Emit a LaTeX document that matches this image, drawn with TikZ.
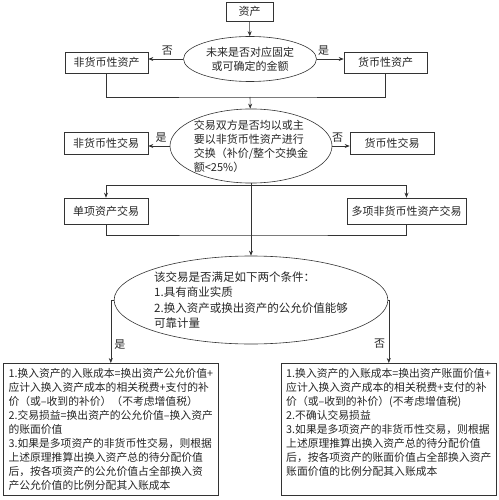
\documentclass[tikz,border=0pt]{standalone}
\usepackage{fontspec}
\newfontfamily\cjk{Noto Sans CJK SC}
\usetikzlibrary{shapes.geometric,arrows.meta}
\begin{document}
\begin{tikzpicture}[x=1pt,y=-1pt,
	every node/.style={font=\cjk\fontsize{11}{14}\selectfont, text=black!85},
	box/.style={draw=black!80, line width=0.6pt, inner sep=2pt},
	decision/.style={ellipse, draw=black!80, line width=0.6pt, inner sep=0pt},
	note/.style={draw=black!80, line width=0.6pt, inner sep=3pt, align=left,
		anchor=north west, minimum width=215pt, minimum height=132pt,
		font=\cjk\fontsize{10.8}{14}\selectfont},
	conn/.style={draw=black!80, line width=0.6pt},
	>={Stealth[length=5pt,width=4pt]}]
	\useasboundingbox (0,0) rectangle (498,500);
	% first question
	\node[box, minimum width=47pt, minimum height=19pt] (asset) at (249.5,11.5) {资产};
	\node[decision, align=center, minimum width=133pt, minimum height=45pt] (q1) at (250,59)
		{未来是否对应固定\\或可确定的金额};
	\node[box, minimum width=83pt, minimum height=21pt] (nonmon) at (106.5,62.5) {非货币性资产};
	\node[box, minimum width=83pt, minimum height=21pt] (mon) at (385.5,62.5) {货币性资产};
	\coordinate (join1) at (250,97);
	% second question
	\node[decision, align=left, minimum width=162pt, minimum height=72pt] (q2) at (251,146)
		{交易双方是否均以或主\\要以非货币性资产进行\\交换（补价/整个交换金\\额<25\%）};
	\node[box, minimum width=84pt, minimum height=22pt] (nmtx) at (106,143) {非货币性交易};
	\node[box, minimum width=84pt, minimum height=22pt] (mtx) at (392,143) {货币性交易};
	\coordinate (split) at (251,185);
	\node[box, minimum width=84pt, minimum height=26pt] (single) at (106,211) {单项资产交易};
	\node[box, minimum width=119pt, minimum height=26pt] (multi) at (406.5,211) {多项非货币性资产交易};
	\coordinate (join2) at (251,235);
	% third question
	\node[decision, align=left, minimum width=224pt, minimum height=88pt,
		font=\cjk\fontsize{11.5}{15.5}\selectfont] (q3) at (251,300)
		{该交易是否满足如下两个条件：\\1.具有商业实质\\2.换入资产或换出资产的公允价值能够\\可靠计量};
	\node[note] (yesbox) at (3,363)
		{1.换入资产的入账成本=换出资产公允价值+\\应计入换入资产成本的相关税费+支付的补\\价（或–收到的补价）（不考虑增值税）\\2.交易损益=换出资产的公允价值–换入资产\\的账面价值\\3.如果是多项资产的非货币性交易，则根据\\上述原理推算出换入资产总的待分配价值\\后，按各项资产的公允价值占全部换入资\\产公允价值的比例分配其入账成本};
	\node[note] (nobox) at (281,363)
		{1.换入资产的入账成本=换出资产账面价值+\\应计入换入资产成本的相关税费+支付的补\\价（或–收到的补价）(不考虑增值税)\\2.不确认交易损益\\3.如果是多项资产的非货币性交易，则根据\\上述原理推算出换入资产总的待分配价值\\后，按各项资产的账面价值占全部换入资产\\账面价值的比例分配其入账成本\\\mbox{}};
	% connectors
	\draw[conn,->] (asset) -- (q1);
	\draw[conn,->] (q1.west) -- (q1.west -| nonmon.east) node[above,pos=0.45] {否};
	\draw[conn,->] (q1.east) -- (q1.east -| mon.west) node[above,pos=0.25] {是};
	\draw[conn] (nonmon.south) |- (join1) -| (mon.south);
	\draw[conn,->] (join1) -- (q2);
	\draw[conn,->] (q2.west) -- (q2.west -| nmtx.east) node[above,pos=0.4] {是};
	\draw[conn,->] (q2.east) -- (q2.east -| mtx.west) node[above,pos=0.3] {否};
	\draw[conn,->] (split) -| (single.north);
	\draw[conn,->] (split) -| (multi.north);
	\draw[conn] (single.south) |- (join2) -| (multi.south);
	\draw[conn,->] (q2.south) -- (q3.north);
	\draw[conn,->] (q3.west) -| (yesbox.north) node[right,pos=0.85] {是};
	\draw[conn,->] (q3.east) -| (nobox.north) node[left,pos=0.85] {否};
\end{tikzpicture}
\end{document}
